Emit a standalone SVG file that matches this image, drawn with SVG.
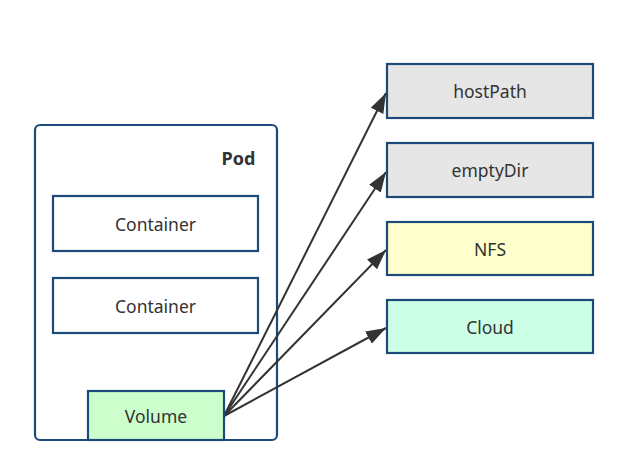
<svg xmlns="http://www.w3.org/2000/svg" width="633" height="454" viewBox="0 0 633 454">
<defs>
<style>
.box{stroke:#1c4a7a;stroke-width:2.2}
.lbl{font-family:"Noto Sans","Liberation Sans",sans-serif;font-size:17.5px;fill:#333;text-anchor:middle;dominant-baseline:central}
.edge{stroke:#333;stroke-width:2;fill:none;marker-end:url(#ahb)}
</style>
<marker id="ahb" viewBox="0 0 20 14" refX="20" refY="7" markerWidth="20" markerHeight="14" markerUnits="userSpaceOnUse" orient="auto">
<path d="M0,0 L20,7 L0,14 z" fill="#333"/>
</marker>
</defs>
<rect width="633" height="454" fill="#fff"/>
<g id="pod">
<rect class="box" x="35" y="125" width="242" height="315" rx="5" fill="#fff"/>
<text class="lbl" x="238.5" y="158" style="font-weight:bold;font-size:18px">Pod</text>
</g>
<g id="container1">
<rect class="box" x="53" y="196" width="205" height="55" fill="#fff"/>
<text class="lbl" x="155.5" y="224">Container</text>
</g>
<g id="container2">
<rect class="box" x="53" y="278" width="205" height="55" fill="#fff"/>
<text class="lbl" x="155.5" y="306">Container</text>
</g>
<g id="connectors">
<line class="edge" x1="224" y1="416" x2="386" y2="93"/>
<line class="edge" x1="224" y1="416" x2="386" y2="172"/>
<line class="edge" x1="224" y1="416" x2="386" y2="250"/>
<line class="edge" x1="224" y1="416" x2="386" y2="328"/>
</g>
<g id="volume">
<rect class="box" x="88" y="391" width="136" height="49" fill="#ccffcc"/>
<text class="lbl" x="156" y="416">Volume</text>
</g>
<g id="hostPath">
<rect class="box" x="387" y="64" width="206" height="54" fill="#e6e6e6"/>
<text class="lbl" x="490" y="91">hostPath</text>
</g>
<g id="emptyDir">
<rect class="box" x="387" y="143" width="206" height="54" fill="#e6e6e6"/>
<text class="lbl" x="490" y="170">emptyDir</text>
</g>
<g id="nfs">
<rect class="box" x="387" y="222" width="206" height="53" fill="#ffffcc"/>
<text class="lbl" x="490" y="249">NFS</text>
</g>
<g id="cloud">
<rect class="box" x="387" y="300" width="206" height="53" fill="#ccffe6"/>
<text class="lbl" x="490" y="327">Cloud</text>
</g>
</svg>
